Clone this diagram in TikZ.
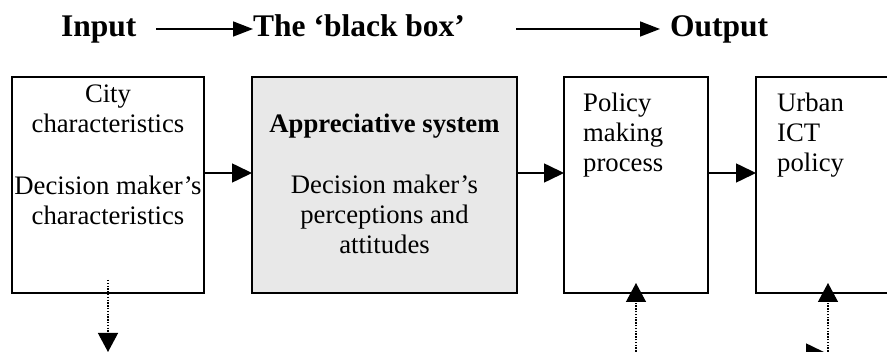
\documentclass[tikz,border=0pt]{standalone}
\usepackage{fontspec}
\setmainfont{Liberation Serif}
\usetikzlibrary{arrows.meta}
\begin{document}
\begin{tikzpicture}[x=1pt,y=-1pt,
  box/.style={draw, line width=1.6pt, outer sep=0pt, inner sep=0pt, anchor=north west},
  txt/.style={inner sep=0pt, anchor=base, font=\fontsize{26.7}{30}\selectfont},
  ltxt/.style={txt, anchor=base west},
  btxt/.style={txt, font=\fontsize{26.7}{30}\selectfont\bfseries},
  head/.style={inner sep=0pt, anchor=base west, font=\fontsize{31.5}{36}\selectfont\bfseries},
  flow/.style={line width=1.6pt, -{Triangle[length=20pt,width=19pt]}},
  hflow/.style={line width=1.6pt, -{Triangle[length=20pt,width=15pt]}},
  feed/.style={line width=1.3pt, dash pattern=on 1.4pt off 1.4pt, -{Triangle[length=19pt,width=20pt]}}]
\useasboundingbox (0,0) rectangle (887,352);
\clip (0,0) rectangle (887,352);
% header
\node[head] (hin) at (61,37) {Input};
\node[head] (hbb) at (253,37) {The ‘black box’};
\node[head] (hout) at (670,37) {Output};
\coordinate (ha) at (156,29);
\coordinate (hb) at (516,29);
\draw[hflow] (ha) -- (hbb.west |- ha);
\draw[hflow] (hb) -- ([xshift=-10pt]hout.west |- hb);
% boxes
\node[box, minimum width=192pt, minimum height=216pt] (b1) at (12,77) {};
\node[box, fill=black!9, minimum width=265pt, minimum height=216pt] (b2) at (252,77) {};
\node[box, minimum width=144pt, minimum height=216pt] (b3) at (564,77) {};
\node[box, minimum width=160pt, minimum height=216pt] (b4) at (756,77) {};
% texts
\node[txt] (t11) at (108,103) {City};
\node[txt] (t12) at (108,133) {characteristics};
\node[txt] (t13) at (108,195) {Decision maker’s};
\node[txt] (t14) at (108,225) {characteristics};
\node[btxt] (t21) at (384.5,133) {Appreciative system};
\node[txt] (t22) at (384.5,194) {Decision maker’s};
\node[txt] (t23) at (384.5,224) {perceptions and};
\node[txt] (t24) at (384.5,254) {attitudes};
\node[ltxt] (t31) at (583,112) {Policy};
\node[ltxt] (t32) at (583,142) {making};
\node[ltxt] (t33) at (583,172) {process};
\node[ltxt] (t41) at (777,112) {Urban};
\node[ltxt] (t42) at (777,142) {ICT};
\node[ltxt] (t43) at (777,172) {policy};
% connectors
\coordinate (row) at (0,173);
\draw[flow] (b1.east |- row) -- (b2.west |- row);
\draw[flow] (b2.east |- row) -- (b3.west |- row);
\draw[flow] (b3.east |- row) -- (b4.west |- row);
% dotted feedback arrows
\coordinate (d1s) at (108,280);
\coordinate (d1e) at (108,352);
\draw[feed] (d1s) -- (d1e);
\coordinate (d3s) at (636,360);
\coordinate (d3e) at (636,283);
\draw[feed] (d3s) -- (d3e);
\coordinate (d4s) at (828,360);
\coordinate (d4e) at (828,283);
\draw[feed] (d4s) -- (d4e);
\coordinate (ba) at (780,353);
\coordinate (bb) at (826,353);
\draw[flow] (ba) -- (bb);
\end{tikzpicture}
\end{document}
